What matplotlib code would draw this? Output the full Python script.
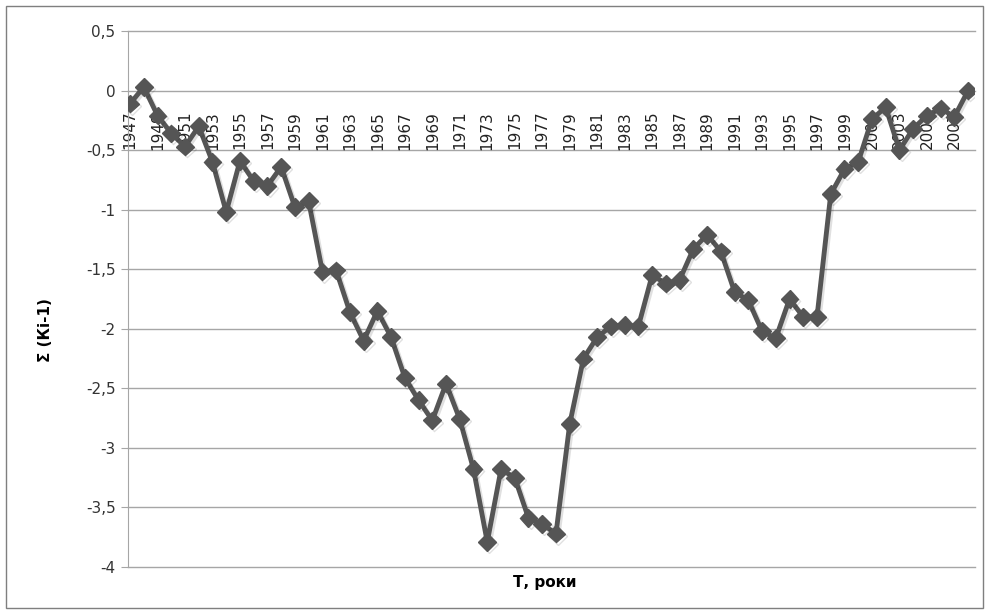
import matplotlib

matplotlib.use("Agg")
import matplotlib.pyplot as plt
import matplotlib.patheffects as pe
from matplotlib.patches import Rectangle

years = list(range(1947, 2009))
values = [
    -0.11, 0.03, -0.21, -0.36, -0.47, -0.30, -0.60, -1.02, -0.59, -0.76,
    -0.80, -0.64, -0.98, -0.93, -1.52, -1.51, -1.86, -2.10, -1.85, -2.07,
    -2.41, -2.60, -2.77, -2.46, -2.76, -3.18, -3.79, -3.18, -3.25, -3.59,
    -3.64, -3.72, -2.80, -2.25, -2.07, -1.98, -1.97, -1.98, -1.55, -1.62,
    -1.59, -1.33, -1.21, -1.35, -1.69, -1.76, -2.02, -2.08, -1.75, -1.90,
    -1.90, -0.87, -0.66, -0.60, -0.24, -0.14, -0.50, -0.32, -0.21, -0.15,
    -0.22, 0.00,
]
y_ticks = [0.5, 0, -0.5, -1, -1.5, -2, -2.5, -3, -3.5, -4]
label_years = years[::2]

W, H = 988, 614
fig = plt.figure(figsize=(W / 100, H / 100), dpi=100)
fig.patches.append(Rectangle((6 / W, 6 / H), 977 / W, 602 / H, transform=fig.transFigure,
                             fill=False, edgecolor="#7f7f7f", linewidth=1))

ax = fig.add_axes([128 / W, 1 - 567 / H, (975 - 128) / W, (567 - 31) / H])
ax.set_ylim(-4, 0.5)
ax.set_xlim(years[0] - 0.15, years[-1] + 0.5)

for y in y_ticks:
    ax.axhline(y, color="#a6a6a6", linewidth=1, zorder=1, clip_on=False)

for s in ["top", "right", "bottom"]:
    ax.spines[s].set_visible(False)
ax.spines["left"].set_color("#a6a6a6")

ax.set_yticks(y_ticks)
ax.set_yticklabels([("%g" % v).replace(".", ",") for v in y_ticks], fontsize=11, color="#333333")
ax.tick_params(axis="y", length=5, color="#a6a6a6", pad=4)
ax.set_xticks([])

# year labels hang under the zero line, every second year
for yr in label_years:
    ax.text(yr, -0.17, str(yr), rotation=90, ha="center", va="top", fontsize=11,
            color="#222222", zorder=2)

ax.plot(years, values, color="#555555", linewidth=3.5, marker="D", markersize=9,
        zorder=3, solid_joinstyle="miter",
        path_effects=[pe.SimpleLineShadow(offset=(1.5, -1.5), shadow_color="#000000", alpha=0.12),
                      pe.Normal()])

fig.text(545 / W, 1 - 583 / H, "Т, роки", ha="center", va="center", fontsize=11, fontweight="bold")
fig.text(45 / W, 1 - 330 / H, "Σ (Кі-1)", ha="center", va="center", rotation=90,
         fontsize=11, fontweight="bold")

fig.savefig("out.png", dpi=100)
